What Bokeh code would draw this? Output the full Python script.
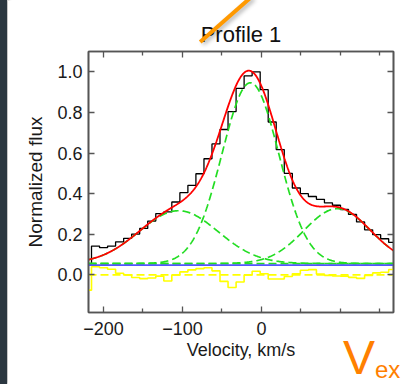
import numpy as np
from bokeh.plotting import figure
from bokeh.models import (Range1d, FixedTicker, LinearAxis, Div, PrintfTickFormatter)
from bokeh.layouts import row
from bokeh.embed import file_html
from bokeh.resources import INLINE

# ---------------- data ----------------
velocity = [-220.3, -210.1, -199.9, -189.8, -179.6, -169.4, -159.3, -149.1, -138.9,
            -128.7, -118.6, -108.4, -98.2, -88.1, -77.9, -67.7, -57.6, -47.4, -37.2,
            -27.0, -16.9, -6.7, 3.5, 13.6, 23.8, 34.0, 44.2, 54.3, 64.5, 74.7, 84.8,
            95.0, 105.2, 115.3, 125.5, 135.7, 145.9, 156.0, 166.2]
flux = [0.05, 0.142, 0.134, 0.142, 0.163, 0.180, 0.201, 0.229, 0.265, 0.302, 0.310,
        0.359, 0.405, 0.441, 0.498, 0.572, 0.645, 0.716, 0.804, 0.918, 0.980, 1.000,
        0.912, 0.753, 0.617, 0.500, 0.428, 0.400, 0.386, 0.372, 0.355, 0.343, 0.322,
        0.298, 0.261, 0.222, 0.198, 0.178, 0.160]
residual = [-0.075, 0.040, 0.035, 0.028, 0.008, 0.000, -0.013, -0.018, -0.015, -0.006,
            -0.030, 0.000, 0.015, 0.025, 0.031, 0.035, 0.020, -0.032, -0.062, -0.035,
            0.000, 0.018, 0.006, -0.020, -0.020, -0.008, 0.006, 0.023, 0.026, 0.004,
            -0.002, -0.005, -0.006, -0.012, -0.017, -0.002, 0.010, 0.013, 0.027]

# Gaussian fit components (centre, width, amplitude) and continuum level
comp_center = [-105.0, -14.0, 96.0]
comp_sigma = [50.0, 36.0, 42.0]
comp_amp = [0.26, 0.89, 0.27]
continuum = 0.056
baseline_level = 0.048
zero_level = 0.0

x_ticks = [-200, -100, 0]
x_minor = [-150, -50, 50, 100, 150]
x_labels = {-200: "\u2212200", -100: "\u2212100", 0: "0"}
y_ticks = [0.0, 0.2, 0.4, 0.6, 0.8, 1.0]

X0, X1 = -219.0, 167.2
Y0, Y1 = -0.185, 1.10
FONT = "Liberation Sans"


def step_xy(centers, values):
    c = np.asarray(centers, float)
    v = np.asarray(values, float)
    mids = (c[1:] + c[:-1]) / 2
    edges = np.concatenate([[c[0] - (c[1] - c[0]) / 2], mids,
                            [c[-1] + (c[-1] - c[-2]) / 2]])
    return np.repeat(edges, 2)[1:-1], np.repeat(v, 2)


grid = np.linspace(X0, X1, 600)
components = [continuum + a * np.exp(-0.5 * ((grid - m) / s) ** 2)
              for m, s, a in zip(comp_center, comp_sigma, comp_amp)]
model = continuum + sum(a * np.exp(-0.5 * ((grid - m) / s) ** 2)
                        for m, s, a in zip(comp_center, comp_sigma, comp_amp))

p = figure(width=398, height=384, x_range=Range1d(X0, X1), y_range=Range1d(Y0, Y1),
           output_backend="svg", toolbar_location=None, title="Profile 1",
           min_border_left=81, min_border_right=12, min_border_top=51,
           min_border_bottom=72)
p.background_fill_color = "white"
p.border_fill_color = "white"
p.outline_line_color = "#555555"
p.outline_line_width = 1.6
p.grid.visible = False

p.title.text_font = FONT
p.title.text_font_size = "22px"
p.title.text_font_style = "normal"
p.title.text_color = "#111111"
p.title.align = "center"


def style_axis(ax, show_labels):
    ax.axis_line_color = "#555555"
    ax.axis_line_width = 1.6
    ax.major_tick_line_color = "#555555"
    ax.minor_tick_line_color = "#555555"
    ax.major_tick_line_width = 1.3
    ax.minor_tick_line_width = 1.3
    ax.major_tick_in = 6
    ax.major_tick_out = 0
    ax.minor_tick_in = 4
    ax.minor_tick_out = 0
    if show_labels:
        ax.major_label_text_font = FONT
        ax.major_label_text_font_size = "18px"
        ax.major_label_text_color = "#1a1a1a"
        ax.axis_label_text_font = FONT
        ax.axis_label_text_font_size = "18px"
        ax.axis_label_text_font_style = "normal"
        ax.axis_label_text_color = "#1a1a1a"
    else:
        ax.major_label_text_color = None
        ax.major_label_text_font_size = "0px"
        ax.major_label_standoff = 0


xa = p.xaxis[0]
xa.ticker = FixedTicker(ticks=x_ticks, minor_ticks=x_minor)
xa.major_label_overrides = x_labels
xa.axis_label = "Velocity, km/s"
style_axis(xa, True)
xa.major_label_standoff = 9
xa.axis_label_standoff = 2

ya = p.yaxis[0]
ya.ticker = FixedTicker(ticks=y_ticks)
ya.formatter = PrintfTickFormatter(format="%.1f")
ya.axis_label = "Normalized flux"
style_axis(ya, True)
ya.axis_label_text_font_size = "19px"
ya.major_label_standoff = 6
ya.axis_label_standoff = 8

top = LinearAxis(ticker=FixedTicker(ticks=x_ticks, minor_ticks=x_minor))
style_axis(top, False)
p.add_layout(top, "above")
right = LinearAxis(ticker=FixedTicker(ticks=y_ticks))
style_axis(right, False)
p.add_layout(right, "right")

# observed profile
hx, hy = step_xy(velocity, flux)
p.line(hx, hy, line_color="black", line_width=1.3)

# fit components (dashed green) and continuum
for comp in components:
    p.line(grid, comp, line_color="#22dd22", line_width=1.7, line_dash="8 4")
p.line([X0, X1], [continuum, continuum], line_color="#22dd22", line_width=1.7,
       line_dash="8 4")
p.line([X0, X1], [baseline_level, baseline_level], line_color="#5555ff",
       line_width=1.7)

# residuals
rx, ry = step_xy(velocity, residual)
p.line(rx, ry, line_color="#ffff00", line_width=1.6)
p.line([X0, X1], [zero_level, zero_level], line_color="#ffff00", line_width=1.6,
       line_dash="8 4")

# total model
p.line(grid, model, line_color="#ff0000", line_width=1.8)

# slide decorations around the chart (orange pointer line and "V_ex" caption)
overlay_html = (
    '<div style="position:absolute;left:0;top:0;width:405px;height:384px;'
    'overflow:hidden;pointer-events:none;">'
    '<div style="position:absolute;left:200px;top:40px;width:68px;height:3.5px;'
    'background:#ff9900;transform:rotate(-41.3deg);transform-origin:0 50%;'
    'box-shadow:1px 3px 4px rgba(0,0,0,0.3);"></div>'
    '<span style="position:absolute;left:343px;top:334px;'
    "font-family:'Liberation Sans';font-size:48px;line-height:48px;"
    'color:#ff8000;white-space:nowrap;">V</span>'
    '<span style="position:absolute;left:375px;top:361px;'
    "font-family:'Liberation Sans';font-size:24px;line-height:18px;"
    'color:#ff8000;white-space:nowrap;">ex</span>'
    '</div>')
overlay = Div(text=overlay_html, width=0, height=0, margin=(0, 0, 0, 0),
              styles={"position": "absolute", "left": "0px", "top": "0px",
                      "overflow": "visible", "z-index": "10"})

bar = Div(text="", width=7, height=384, margin=(0, 0, 0, 0),
          styles={"background-color": "#2b3740",
                  "box-shadow": "2px 0 3px rgba(0,0,0,0.35)"})
layout = row(bar, p, overlay, spacing=0)

open("out.html", "w").write(file_html(layout, INLINE))
